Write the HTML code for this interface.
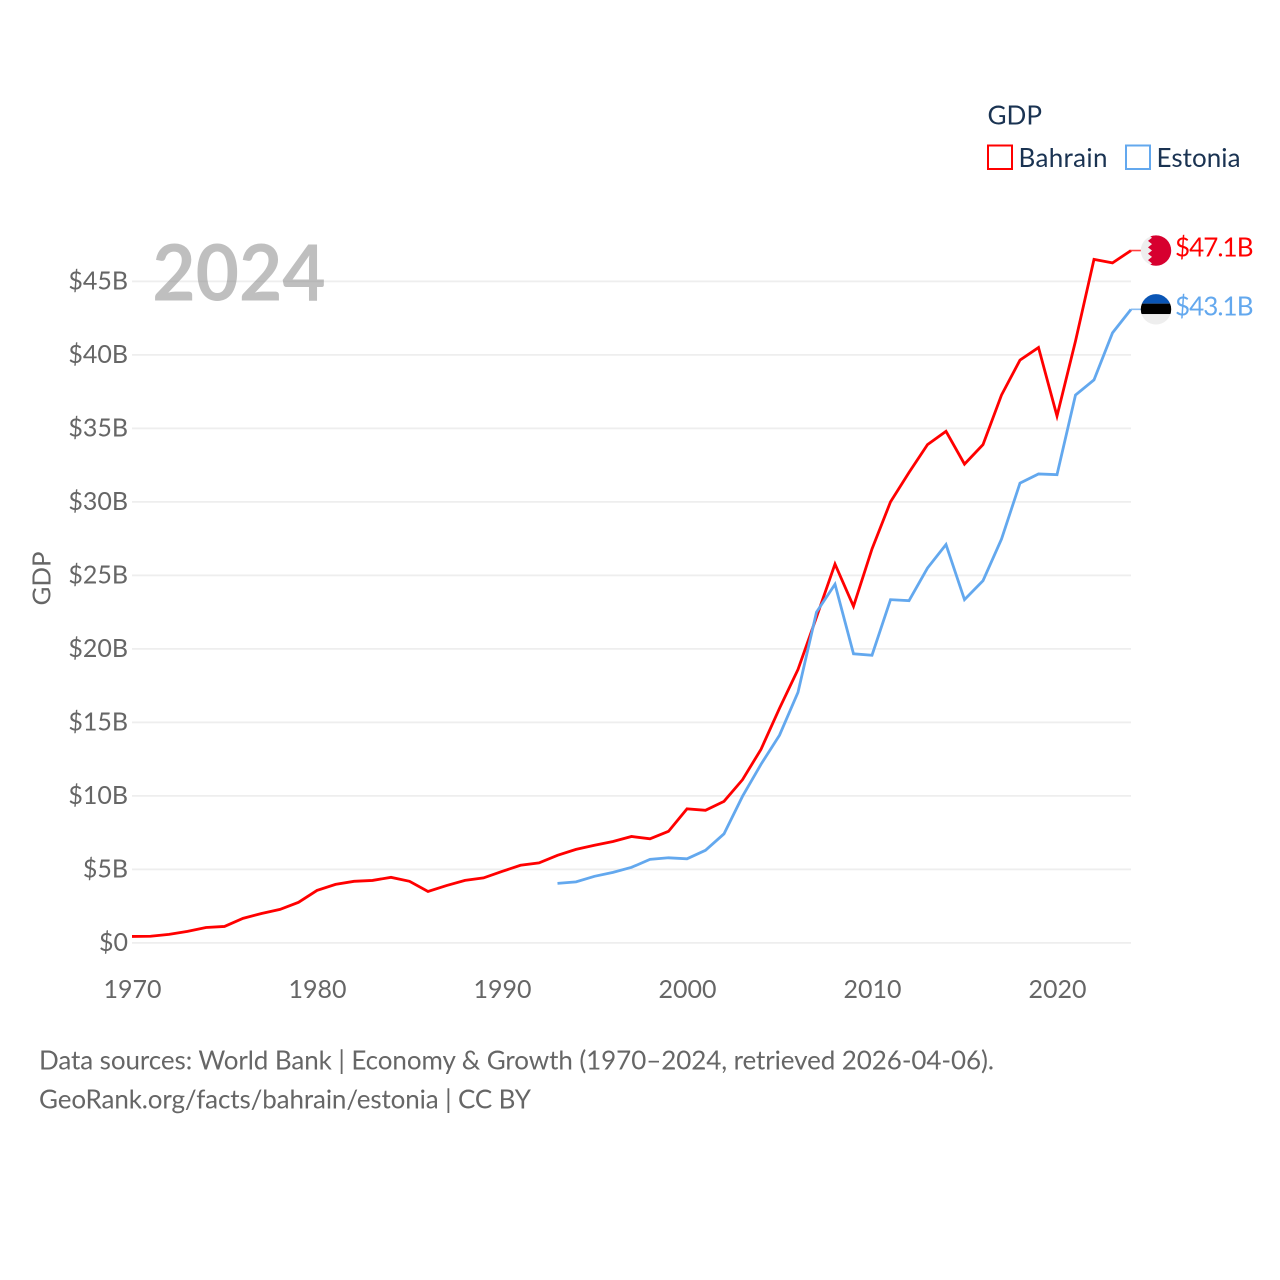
<!DOCTYPE html>
<html lang="en">
<head>
<meta charset="utf-8">
<title>GDP: Bahrain and Estonia</title>
<style>
html,body{margin:0;padding:0;background:#fff;width:1280px;height:1280px;overflow:hidden}
svg{display:block;font-family:"Lato","Carlito","Liberation Sans",sans-serif}
</style>
</head>
<body>
<svg id="chart" xmlns="http://www.w3.org/2000/svg" width="1280" height="1280" viewBox="0 0 1280 1280">
  <rect width="1280" height="1280" fill="#fff"/>
  <g id="grid"></g>
  <g id="ylabels"></g>
  <g id="xlabels"></g>
  <text x="239" y="300.7" text-anchor="middle" font-size="78" font-weight="700" fill="#808080" fill-opacity="0.5" textLength="173.5" lengthAdjust="spacingAndGlyphs">2024</text>
  <text transform="translate(50.5,578.5) rotate(-90)" text-anchor="middle" font-size="25.5" fill="#666" textLength="54" lengthAdjust="spacingAndGlyphs">GDP</text>
  <g id="series"></g>
  <g>
    <text x="987.5" y="124.5" font-size="26" fill="#1a3352" textLength="54.5" lengthAdjust="spacingAndGlyphs">GDP</text>
    <g>
      <rect x="988" y="145.5" width="24" height="23.5" fill="none" stroke="#ff0000" stroke-width="2"/>
      <text x="1018.5" y="167" font-size="26" fill="#1a3352" textLength="89" lengthAdjust="spacing">Bahrain</text>
    </g>
    <g>
      <rect x="1126" y="145.5" width="24" height="23.5" fill="none" stroke="#63a8ee" stroke-width="2"/>
      <text x="1156.5" y="167" font-size="26" fill="#1a3352" textLength="84" lengthAdjust="spacing">Estonia</text>
    </g>
  </g>
  <g id="ends"></g>
  <g>
    <text x="39" y="1069.5" font-size="26" fill="#666" textLength="955" lengthAdjust="spacing">Data sources: World Bank | Economy &amp; Growth (1970–2024, retrieved 2026-04-06).</text>
    <text x="39" y="1108.5" font-size="26" fill="#666" textLength="492" lengthAdjust="spacing">GeoRank.org/facts/bahrain/estonia | CC BY</text>
  </g>
</svg>
<script>
const yTicks = [0, 5, 10, 15, 20, 25, 30, 35, 40, 45];
const xTicks = [1970, 1980, 1990, 2000, 2010, 2020];
const bahrainStartYear = 1970;
const estoniaStartYear = 1993;
const bahrainValues = [0.44, 0.45, 0.58, 0.78, 1.05, 1.12, 1.67, 2.0, 2.28, 2.76,
  3.57, 3.98, 4.19, 4.25, 4.46, 4.19, 3.5, 3.9, 4.25, 4.42,
  4.86, 5.28, 5.44, 5.96, 6.36, 6.64, 6.9, 7.24, 7.08, 7.59,
  9.12, 9.02, 9.63, 11.1, 13.17, 15.96, 18.6, 22.16, 25.77, 22.9,
  26.8, 30.0, 32.0, 33.9, 34.8, 32.57, 33.9, 37.27, 39.65, 40.5,
  35.84, 40.94, 46.5, 46.26, 47.1];
const estoniaValues = [4.05, 4.15, 4.53, 4.8, 5.14, 5.68, 5.79,
  5.72, 6.3, 7.42, 9.97, 12.15, 14.13, 17.05, 22.5, 24.4, 19.67,
  19.57, 23.35, 23.28, 25.5, 27.1, 23.35, 24.64, 27.47, 31.28, 31.9,
  31.85, 37.27, 38.3, 41.5, 43.1];

const NS = 'http://www.w3.org/2000/svg';
function xScale(year) { return 132 + (year - 1970) * 18.5; }
function yScale(v) { return 942.9 - v * 14.7; }
function make(tag, attrs, parent) {
  const el = document.createElementNS(NS, tag);
  for (const k in attrs) el.setAttribute(k, attrs[k]);
  parent.appendChild(el);
  return el;
}
const gridG = document.getElementById('grid');
const yG = document.getElementById('ylabels');
const xG = document.getElementById('xlabels');
const seriesG = document.getElementById('series');
const endsG = document.getElementById('ends');

yTicks.forEach(function (t) {
  const line = make('line', {x1: 132, x2: 1131, y1: yScale(t), y2: yScale(t), stroke: '#eeeeee', 'stroke-width': 1.7}, gridG);
  
  
  const label = make('text', {x: 128, y: yScale(t) + 8, 'text-anchor': 'end', 'font-size': 25, fill: '#666'}, yG);
  
  
  label.textContent = t === 0 ? '$0' : '$' + t + 'B';
});
xTicks.forEach(function (t) {
  const label = make('text', {x: xScale(t) + 0.5, y: 998, 'text-anchor': 'middle', 'font-size': 25, fill: '#666'}, xG);
  
  
  label.textContent = t;
});

function drawSeries(values, startYear, color, name) {
  const pts = values.map(function (v, i) {
    return xScale(startYear + i).toFixed(2) + ',' + yScale(v).toFixed(2);
  }).join(' ');
  const line = make('polyline', {points: pts, fill: 'none', stroke: color, 'stroke-width': 2.8, 'stroke-linejoin': 'miter'}, seriesG);
  
  

  const lastVal = values[values.length - 1];
  const ex = xScale(startYear + values.length - 1);
  const ey = yScale(lastVal);
  const conn = make('line', {x1: ex, x2: ex + 10, y1: ey, y2: ey, stroke: color, 'stroke-width': 1.6, opacity: 0.75}, seriesG);
  
  

  const label = make('text', {x: ex + 44, y: ey + 6, 'font-size': 26, fill: color, textLength: 78.5, lengthAdjust: 'spacing'}, endsG);
  
  
  label.textContent = '$' + lastVal.toFixed(1) + 'B';

  const flag = make('g', {transform: 'translate(' + (ex + 25) + ',' + ey + ')'}, endsG);
  
  
  return flag;
}

const bFlag = drawSeries(bahrainValues, bahrainStartYear, '#ff0000', 'bahrain');
const eFlag = drawSeries(estoniaValues, estoniaStartYear, '#63a8ee', 'estonia');

const defs = make('defs', {}, document.getElementById('chart'));
const clip = make('clipPath', {id: 'flagClip'}, defs);
make('circle', {cx: 0, cy: 0, r: 15.2}, clip);

const bg = make('g', {'clip-path': 'url(#flagClip)'}, bFlag);
make('rect', {x: -16, y: -16, width: 32, height: 32, fill: '#eeeeee'}, bg);
make('polygon', {points: '-8,-16 -4,-12.8 -8,-9.6 -4,-6.4 -8,-3.2 -4,0 -8,3.2 -4,6.4 -8,9.6 -4,12.8 -8,16 16,16 16,-16', fill: '#d7002f'}, bg);

const eg = make('g', {'clip-path': 'url(#flagClip)'}, eFlag);
make('rect', {x: -16, y: -16, width: 32, height: 10.3, fill: '#0a55b5'}, eg);
make('rect', {x: -16, y: -5.7, width: 32, height: 10.5, fill: '#000000'}, eg);
make('rect', {x: -16, y: 4.8, width: 32, height: 11.2, fill: '#eeeeee'}, eg);
</script>
</body>
</html>
